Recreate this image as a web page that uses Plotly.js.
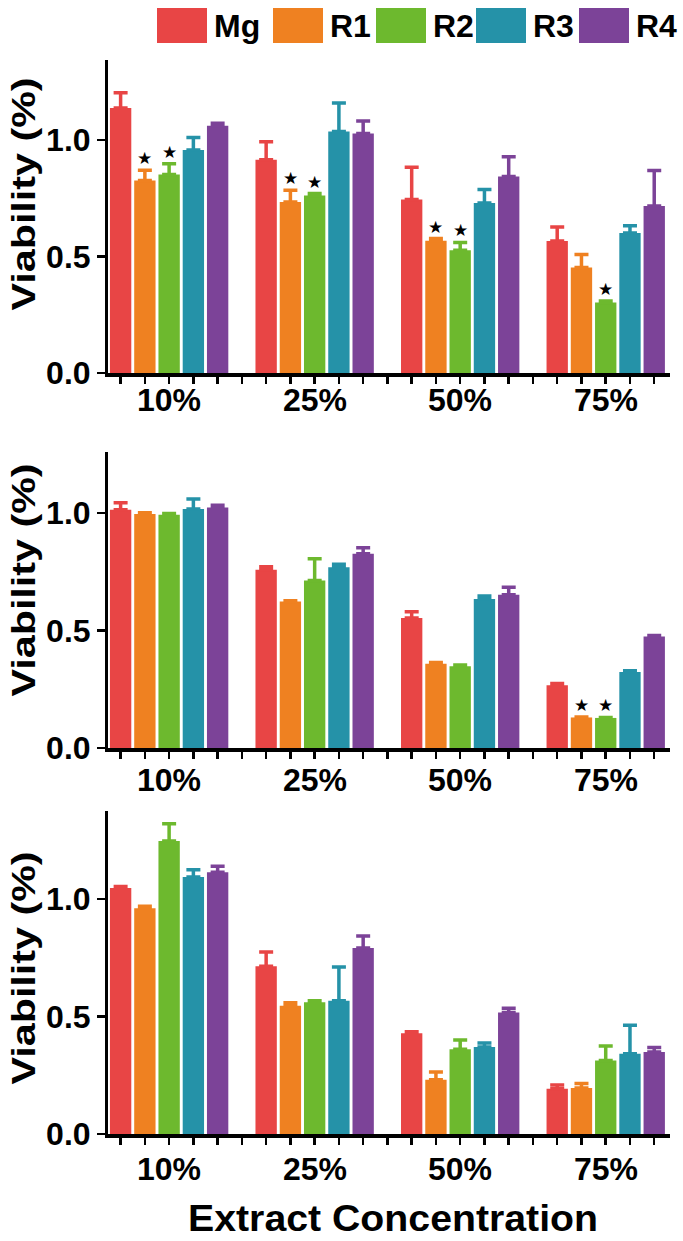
<!DOCTYPE html>
<html>
<head>
<meta charset="utf-8">
<script src="https://cdn.plot.ly/plotly-3.0.1.min.js"></script>
<style>html,body{margin:0;padding:0;background:#fff;}#chart{width:683px;height:1241px;}</style>
</head>
<body>
<div id="chart"></div>
<script>
// ---- data ----
const groups = ['10%', '25%', '50%', '75%'];
const seriesNames = ['Mg', 'R1', 'R2', 'R3', 'R4'];
const seriesColors = ['#e84545', '#ef8121', '#6db92e', '#2592a8', '#7c4398'];

// top panel: rows = Mg, R1, R2, R3, R4 ; columns = 10%, 25%, 50%, 75%
const meansA = [
  [1.137, 0.915, 0.744, 0.566],
  [0.826, 0.734, 0.567, 0.453],
  [0.852, 0.762, 0.527, 0.303],
  [0.957, 1.036, 0.729, 0.601],
  [1.061, 1.028, 0.843, 0.717]
];
const errA = [
  [0.066, 0.077, 0.139, 0.060],
  [0.044, 0.050, 0.010, 0.055],
  [0.046, 0.008, 0.033, 0.006],
  [0.053, 0.122, 0.058, 0.031],
  [0.011, 0.053, 0.085, 0.152]
];
const sigA = [
  [0, 0, 0, 0],
  [1, 1, 1, 0],
  [1, 1, 1, 1],
  [0, 0, 0, 0],
  [0, 0, 0, 0]
];
// middle panel
const meansB = [
  [1.014, 0.759, 0.553, 0.267],
  [0.996, 0.624, 0.359, 0.130],
  [0.993, 0.713, 0.348, 0.128],
  [1.017, 0.769, 0.634, 0.323],
  [1.024, 0.827, 0.652, 0.475]
];
const errB = [
  [0.030, 0.013, 0.027, 0.008],
  [0.005, 0.003, 0.005, 0.002],
  [0.005, 0.093, 0.005, 0.002],
  [0.043, 0.013, 0.013, 0.006],
  [0.009, 0.025, 0.032, 0.004]
];
const sigB = [
  [0, 0, 0, 0],
  [0, 0, 0, 1],
  [0, 0, 0, 1],
  [0, 0, 0, 0],
  [0, 0, 0, 0]
];
// bottom panel
const meansC = [
  [1.046, 0.714, 0.429, 0.193],
  [0.960, 0.546, 0.231, 0.196],
  [1.246, 0.560, 0.360, 0.313],
  [1.093, 0.567, 0.370, 0.341],
  [1.113, 0.791, 0.517, 0.349]
];
const errC = [
  [0.007, 0.060, 0.006, 0.015],
  [0.009, 0.012, 0.033, 0.019],
  [0.074, 0.007, 0.040, 0.061],
  [0.031, 0.143, 0.017, 0.122],
  [0.026, 0.051, 0.018, 0.019]
];
const sigC = [
  [0, 0, 0, 0],
  [0, 0, 0, 0],
  [0, 0, 0, 0],
  [0, 0, 0, 0],
  [0, 0, 0, 0]
];
const yTitle = 'Viability (%)';
const xTitle = 'Extract Concentration';

// ---- layout constants ----
const W = 683, H = 1241;
const px = p => p / W;
const py = p => 1 - p / H;
const FONT = 'Liberation Sans, Arial, sans-serif';
const slotsPerGroup = 6;
const panels = [
  {means: meansA, err: errA, sig: sigA, top: 60, bottom: 373, ymax: 1.343, titleY: 194, labelShift: -7},
  {means: meansB, err: errB, sig: sigB, top: 452, bottom: 748, ymax: 1.26, titleY: 580, labelShift: -12},
  {means: meansC, err: errC, sig: sigC, top: 811, bottom: 1134, ymax: 1.374, titleY: 968, labelShift: -15}
];
const plotLeft = 108, plotRight = 670;

const nSlots = groups.length * slotsPerGroup - 1;
const slotVals = Array.from({length: nSlots}, (_, i) => i);

const traces = [];
const annotations = [];
const shapes = [];
const layout = {
  width: W, height: H,
  margin: {l: 0, r: 0, t: 0, b: 0},
  paper_bgcolor: '#fff', plot_bgcolor: '#fff',
  barmode: 'overlay',
  showlegend: false,
  font: {family: FONT, color: '#000'}
};

panels.forEach((p, pi) => {
  const ax = pi === 0 ? '' : String(pi + 1);
  seriesNames.forEach((name, si) => {
    const xs = groups.map((g, gi) => gi * slotsPerGroup + si);
    traces.push({
      type: 'bar', name: name,
      x: xs, y: p.means[si],
      width: 0.88,
      marker: {color: seriesColors[si], line: {width: 0}},
      error_y: {type: 'data', symmetric: false, array: p.err[si], arrayminus: p.err[si].map(() => 0),
                color: seriesColors[si], thickness: 3.5, width: 7},
      xaxis: 'x' + ax, yaxis: 'y' + ax,
      hoverinfo: 'skip'
    });
    p.sig[si].forEach((s, gi) => {
      if (s) {
        annotations.push({
          xref: 'x' + ax, yref: 'y' + ax,
          x: xs[gi], y: p.means[si][gi] + p.err[si][gi],
          text: '★', showarrow: false, yanchor: 'bottom', yshift: 0,
          font: {family: 'DejaVu Sans', size: 17, color: '#000'}
        });
      }
    });
  });
  // group labels, centred under the middle bar of each group
  groups.forEach((g, gi) => {
    annotations.push({
      xref: 'x' + ax, yref: 'y' + ax,
      x: gi * slotsPerGroup + 2, y: 0,
      text: g, showarrow: false, xanchor: 'center', yanchor: 'top', yshift: p.labelShift,
      font: {family: FONT, size: 32, weight: 'bold', color: '#000'}
    });
  });
  layout['xaxis' + ax] = {
    domain: [px(plotLeft), px(plotRight)],
    anchor: 'y' + ax,
    range: [-0.52, nSlots - 1 + 0.65],
    tickmode: 'array', tickvals: slotVals, showticklabels: false,
    ticks: 'outside', ticklen: 7, tickwidth: 2.5, tickcolor: '#000',
    showline: true, linewidth: 3.5, linecolor: '#000',
    showgrid: false, zeroline: false,
    fixedrange: true
  };
  layout['yaxis' + ax] = {
    domain: [py(p.bottom), py(p.top)],
    anchor: 'x' + ax,
    range: [0, p.ymax],
    tickvals: [0, 0.5, 1.0], ticktext: ['0.0', '0.5', '1.0'],
    ticks: 'outside', ticklen: 8, tickwidth: 2.5, tickcolor: '#000',
    showline: true, linewidth: 3, linecolor: '#000',
    showgrid: false, zeroline: false,
    tickfont: {family: FONT, size: 32, weight: 'bold', color: '#000'},
    fixedrange: true
  };
  annotations.push({
    xref: 'paper', yref: 'paper', x: px(23), y: py(p.titleY),
    text: yTitle, textangle: -90, showarrow: false,
    xanchor: 'center', yanchor: 'middle',
    font: {family: FONT, size: 34, weight: 'bold', color: '#000'}
  });
});

annotations.push({
  xref: 'paper', yref: 'paper', x: px(393), y: py(1218),
  text: xTitle, showarrow: false, xanchor: 'center', yanchor: 'middle',
  font: {family: FONT, size: 36, weight: 'bold', color: '#000'}
});

// legend (drawn manually to match large swatches)
const legendLeft = [157, 273, 376, 476, 579];
seriesNames.forEach((name, si) => {
  shapes.push({
    type: 'rect', xref: 'paper', yref: 'paper',
    x0: px(legendLeft[si]), x1: px(legendLeft[si] + 50),
    y0: py(43), y1: py(8),
    fillcolor: seriesColors[si], line: {width: 0}
  });
  annotations.push({
    xref: 'paper', yref: 'paper', x: px(legendLeft[si] + 55), y: py(26),
    text: name, showarrow: false, xanchor: 'left', yanchor: 'middle',
    font: {family: FONT, size: 32, weight: 'bold', color: '#000'}
  });
});

layout.annotations = annotations;
layout.shapes = shapes;

Plotly.newPlot('chart', traces, layout, {displayModeBar: false, staticPlot: true}).then(gd => {
  gd.querySelectorAll('.annotation-text').forEach(t => {
    let len = null;
    if (t.textContent === yTitle) len = 233;
    if (t.textContent === xTitle) len = 410;
    if (len) {
      t.setAttribute('textLength', len);
      t.setAttribute('lengthAdjust', 'spacingAndGlyphs');
    }
  });
});
</script>
</body>
</html>
